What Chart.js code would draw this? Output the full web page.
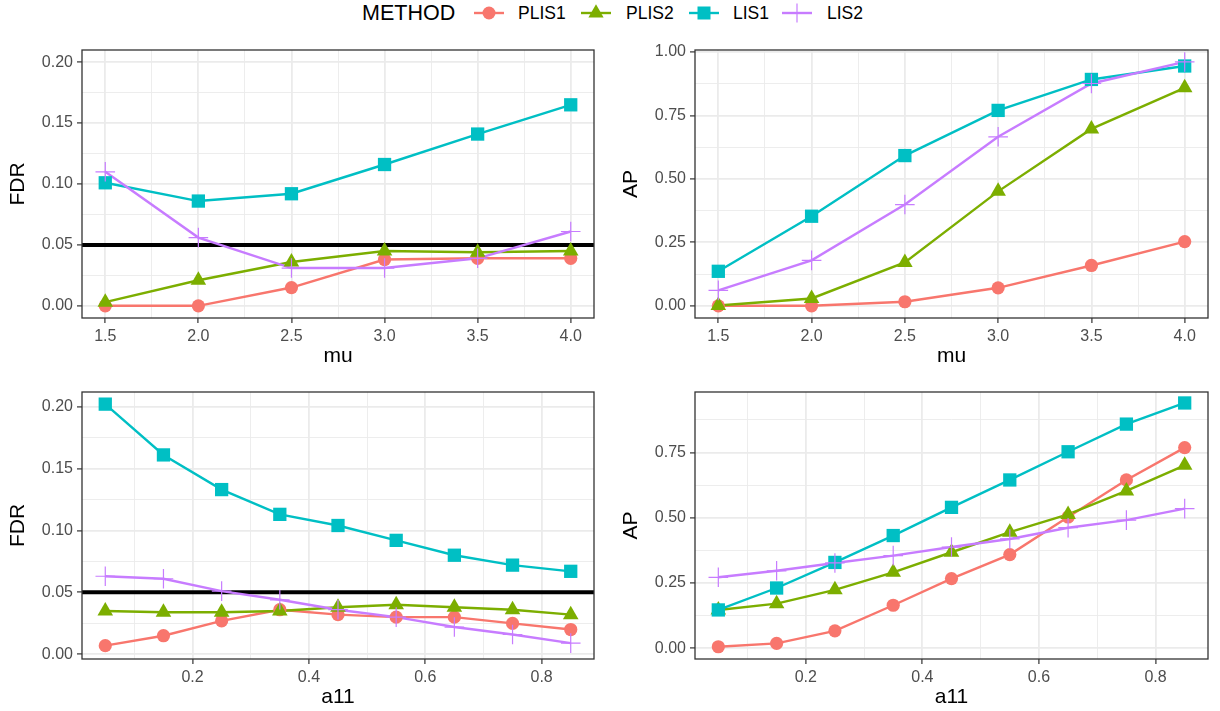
<!DOCTYPE html>
<html><head><meta charset="utf-8">
<script src="https://cdn.jsdelivr.net/npm/chart.js@4/dist/chart.umd.min.js"></script>
<style>
html,body{margin:0;padding:0;background:#fff;}
body{width:1220px;height:711px;position:relative;overflow:hidden;font-family:"Liberation Sans",Arial,sans-serif;}
canvas{position:absolute;}
.lg{position:absolute;top:0;height:26px;line-height:26px;white-space:nowrap;color:#000;}
.lg svg{display:block;}
</style></head><body>
<div class="lg" style="left:362px;font-size:21.5px;">METHOD</div>
<div class="lg" style="left:474px;"><svg width="30" height="26"><line x1="0" y1="13" x2="30" y2="13" stroke="#F8766D" stroke-width="2.4"/><circle cx="15" cy="13" r="6.5" fill="#F8766D"/></svg></div>
<div class="lg" style="left:518px;font-size:17.5px;">PLIS1</div>
<div class="lg" style="left:581px;"><svg width="30" height="26"><line x1="0" y1="13" x2="30" y2="13" stroke="#7CAE00" stroke-width="2.4"/><polygon points="15,4.2 22.6,17.4 7.4,17.4" fill="#7CAE00"/></svg></div>
<div class="lg" style="left:626px;font-size:17.5px;">PLIS2</div>
<div class="lg" style="left:689px;"><svg width="30" height="26"><line x1="0" y1="13" x2="30" y2="13" stroke="#00BFC4" stroke-width="2.4"/><rect x="8.5" y="6.5" width="13" height="13" fill="#00BFC4"/></svg></div>
<div class="lg" style="left:733px;font-size:17.5px;">LIS1</div>
<div class="lg" style="left:782px;"><svg width="30" height="26"><line x1="0" y1="13" x2="30" y2="13" stroke="#C77CFF" stroke-width="2.4"/><line x1="5.5" y1="13" x2="24.5" y2="13" stroke="#C77CFF" stroke-width="1.2"/><line x1="15" y1="3.5" x2="15" y2="22.5" stroke="#C77CFF" stroke-width="1.2"/></svg></div>
<div class="lg" style="left:827px;font-size:17.5px;">LIS2</div>

<canvas id="c1" width="610" height="345" style="left:0;top:30px;"></canvas>
<canvas id="c2" width="610" height="345" style="left:610px;top:30px;"></canvas>
<canvas id="c3" width="610" height="336" style="left:0;top:375px;"></canvas>
<canvas id="c4" width="610" height="336" style="left:610px;top:375px;"></canvas>

<script>
// ---------- data ----------
const methods = ['PLIS1', 'PLIS2', 'LIS1', 'LIS2'];

const mu = [1.5, 2.0, 2.5, 3.0, 3.5, 4.0];
const fdrMuPLIS1 = [0.000, 0.000, 0.015, 0.038, 0.039, 0.039];
const fdrMuPLIS2 = [0.003, 0.021, 0.036, 0.045, 0.044, 0.045];
const fdrMuLIS1  = [0.101, 0.086, 0.092, 0.116, 0.141, 0.165];
const fdrMuLIS2  = [0.110, 0.056, 0.031, 0.031, 0.039, 0.061];
const apMuPLIS1  = [0.000, 0.000, 0.016, 0.071, 0.159, 0.253];
const apMuPLIS2  = [0.001, 0.029, 0.171, 0.451, 0.697, 0.859];
const apMuLIS1   = [0.136, 0.353, 0.592, 0.770, 0.892, 0.945];
const apMuLIS2   = [0.061, 0.179, 0.399, 0.666, 0.876, 0.961];

const a11 = [0.05, 0.15, 0.25, 0.35, 0.45, 0.55, 0.65, 0.75, 0.85];
const fdrA11PLIS1 = [0.007, 0.015, 0.027, 0.036, 0.032, 0.030, 0.030, 0.025, 0.020];
const fdrA11PLIS2 = [0.035, 0.034, 0.034, 0.035, 0.038, 0.040, 0.038, 0.036, 0.032];
const fdrA11LIS1  = [0.202, 0.161, 0.133, 0.113, 0.104, 0.092, 0.080, 0.072, 0.067];
const fdrA11LIS2  = [0.063, 0.061, 0.051, 0.044, 0.036, 0.030, 0.022, 0.016, 0.009];
const apA11PLIS1  = [0.006, 0.019, 0.067, 0.165, 0.267, 0.359, 0.503, 0.645, 0.769];
const apA11PLIS2  = [0.147, 0.171, 0.224, 0.291, 0.368, 0.445, 0.513, 0.603, 0.701];
const apA11LIS1   = [0.147, 0.231, 0.329, 0.432, 0.540, 0.645, 0.753, 0.859, 0.940];
const apA11LIS2   = [0.272, 0.297, 0.327, 0.355, 0.388, 0.419, 0.462, 0.491, 0.535];

const fdrTarget = 0.05;

// tick labels
const muTicks = [1.5, 2.0, 2.5, 3.0, 3.5, 4.0];
const muMinor = [1.75, 2.25, 2.75, 3.25, 3.75];
const a11Ticks = [0.2, 0.4, 0.6, 0.8];
const a11Minor = [0.1, 0.3, 0.5, 0.7];
const fdrTicks = [0.00, 0.05, 0.10, 0.15, 0.20];
const fdrMinor = [0.025, 0.075, 0.125, 0.175];
const apTicks = [0.00, 0.25, 0.50, 0.75, 1.00];
const apMinor = [0.125, 0.375, 0.625, 0.875];

// ---------- styling ----------
const FONT = '"Liberation Sans", Arial, sans-serif';
const colors = {PLIS1: '#F8766D', PLIS2: '#7CAE00', LIS1: '#00BFC4', LIS2: '#C77CFF'};
const shapes = {
  PLIS1: {style: 'circle', r: 6.6, bw: 0},
  PLIS2: {style: 'triangle', r: 9.0, bw: 0},
  LIS1:  {style: 'rect', r: 9.4, bw: 0},
  LIS2:  {style: 'cross', r: 9.8, bw: 1.2}
};

const deco = {
  id: 'panelDeco',
  beforeDatasetsDraw(chart, args, opts) {
    if (opts.hline == null) return;
    const {ctx, chartArea: a} = chart;
    const y = chart.scales.y.getPixelForValue(opts.hline);
    ctx.save();
    ctx.strokeStyle = '#000';
    ctx.lineWidth = 4;
    ctx.beginPath();
    ctx.moveTo(a.left, y);
    ctx.lineTo(a.right, y);
    ctx.stroke();
    ctx.restore();
  },
  afterDraw(chart) {
    const {ctx, chartArea: a} = chart;
    ctx.save();
    ctx.strokeStyle = '#333333';
    ctx.lineWidth = 1.3;
    ctx.strokeRect(a.left, a.top, a.right - a.left, a.bottom - a.top);
    ctx.restore();
  }
};

function axis(o) {
  const isMajor = v => o.major.some(m => Math.abs(m - v) < 1e-9);
  return {
    type: 'linear', position: o.pos, min: o.min, max: o.max, bounds: 'data',
    afterBuildTicks: s => {
      s.ticks = o.major.concat(o.minor)
        .filter(v => v >= o.min && v <= o.max)
        .sort((p, q) => p - q)
        .map(v => ({value: v}));
    },
    afterFit: s => { if (o.pos === 'left') s.width = o.size; else s.height = o.size; },
    ticks: {
      autoSkip: false, maxRotation: 0, minRotation: 0, padding: 4,
      color: '#4D4D4D', font: {family: FONT, size: 16},
      callback: v => isMajor(v) ? Number(v).toFixed(o.dec) : ''
    },
    grid: {
      drawTicks: true, tickLength: 5, tickWidth: 1.2,
      color: '#EBEBEB',
      lineWidth: c => (c.tick && isMajor(c.tick.value)) ? 1.8 : 0.9,
      tickColor: c => (c.tick && isMajor(c.tick.value)) ? '#333333' : 'rgba(0,0,0,0)'
    },
    border: {display: false},
    title: {
      display: true, text: o.title, color: '#000',
      font: {family: FONT, size: 21},
      padding: {top: o.tp, bottom: o.bp}
    }
  };
}

function makePanel(id, xs, series, xa, ya, pad, hline) {
  const datasets = [];
  methods.forEach((m, i) => {
    const pts = xs.map((x, k) => ({x: x, y: series[m][k]}));
    datasets.push({
      label: m + ' line', data: pts, borderColor: colors[m], borderWidth: 2.4,
      pointRadius: 0, pointHoverRadius: 0, fill: false, tension: 0, order: 13 - i, clip: false
    });
    datasets.push({
      label: m, data: pts, showLine: false,
      pointStyle: shapes[m].style, pointRadius: shapes[m].r, pointHoverRadius: shapes[m].r,
      pointBackgroundColor: colors[m], pointBorderColor: colors[m],
      pointBorderWidth: shapes[m].bw, order: 3 - i, clip: false
    });
  });
  return new Chart(document.getElementById(id), {
    type: 'line',
    data: {datasets},
    options: {
      responsive: false, animation: false, devicePixelRatio: 1,
      layout: {autoPadding: false, padding: pad},
      plugins: {legend: {display: false}, tooltip: {enabled: false}, panelDeco: {hline: hline}},
      scales: {x: axis(xa), y: axis(ya)}
    },
    plugins: [deco]
  });
}

const xMu = (size, bp) => ({pos: 'bottom', min: 1.375, max: 4.125, major: muTicks, minor: muMinor, dec: 1, title: 'mu', size, tp: 0, bp});
const xA11 = (size, bp) => ({pos: 'bottom', min: 0.01, max: 0.89, major: a11Ticks, minor: a11Minor, dec: 1, title: 'a11', size, tp: 0, bp});

makePanel('c1', mu,
  {PLIS1: fdrMuPLIS1, PLIS2: fdrMuPLIS2, LIS1: fdrMuLIS1, LIS2: fdrMuLIS2},
  xMu(57, 6),
  {pos: 'left', min: -0.01, max: 0.21, major: fdrTicks, minor: fdrMinor, dec: 2, title: 'FDR', size: 82, tp: 6, bp: 0},
  {top: 20, right: 16, left: 0, bottom: 0}, fdrTarget);

makePanel('c2', mu,
  {PLIS1: apMuPLIS1, PLIS2: apMuPLIS2, LIS1: apMuLIS1, LIS2: apMuLIS2},
  xMu(57, 6),
  {pos: 'left', min: -0.048, max: 1.008, major: apTicks, minor: apMinor, dec: 2, title: 'AP', size: 85, tp: 9, bp: 0},
  {top: 20, right: 12, left: 0, bottom: 0}, null);

makePanel('c3', a11,
  {PLIS1: fdrA11PLIS1, PLIS2: fdrA11PLIS2, LIS1: fdrA11LIS1, LIS2: fdrA11LIS2},
  xA11(52, 1),
  {pos: 'left', min: -0.0038, max: 0.2118, major: fdrTicks, minor: fdrMinor, dec: 2, title: 'FDR', size: 82, tp: 6, bp: 0},
  {top: 17, right: 16, left: 0, bottom: 0}, fdrTarget);

makePanel('c4', a11,
  {PLIS1: apA11PLIS1, PLIS2: apA11PLIS2, LIS1: apA11LIS1, LIS2: apA11LIS2},
  xA11(52, 1),
  {pos: 'left', min: -0.041, max: 0.982, major: apTicks, minor: apMinor, dec: 2, title: 'AP', size: 85, tp: 9, bp: 0},
  {top: 17, right: 12, left: 0, bottom: 0}, null);
</script>
</body></html>
